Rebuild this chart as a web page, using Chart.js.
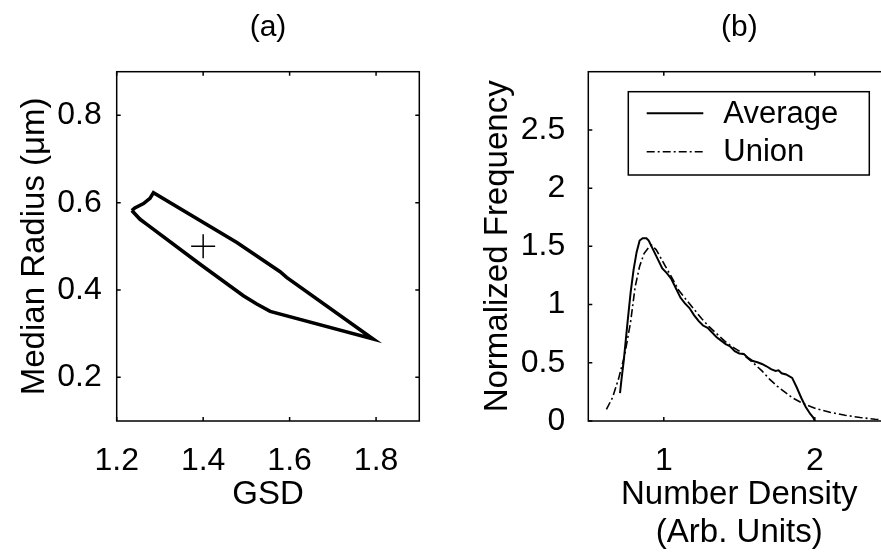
<!DOCTYPE html>
<html>
<head>
<meta charset="utf-8">
<script src="https://cdn.jsdelivr.net/npm/chart.js@4.4.1/dist/chart.umd.min.js"></script>
<style>
  html, body { margin: 0; padding: 0; background: #fff; overflow: hidden; width: 881px; height: 554px; }
  #wrapA { position: absolute; left: 0; top: 0; width: 450px; height: 554px; }
  #wrapB { position: absolute; left: 450px; top: 0; width: 510px; height: 554px; }
</style>
</head>
<body>
<div id="wrapA"><canvas id="chartA" width="450" height="554"></canvas></div>
<div id="wrapB"><canvas id="chartB" width="510" height="554"></canvas></div>
<script>
// ---- (a) acceptance contour in (GSD, median radius) space ----
const contourGSD    = [1.235, 1.242, 1.262, 1.277, 1.285, 1.478, 1.578, 1.593, 1.793, 1.555, 1.524, 1.493, 1.393, 1.269, 1.254, 1.235];
const contourRadius = [0.582, 0.588, 0.598, 0.610, 0.623, 0.509, 0.442, 0.429, 0.288, 0.351, 0.368, 0.387, 0.459, 0.551, 0.562, 0.582];
const bestGSD    = [1.4];
const bestRadius = [0.5];
const gsdTicks    = [1.2, 1.4, 1.6, 1.8];
const radiusTicks = [0.2, 0.4, 0.6, 0.8];

// ---- (b) normalized number-density distributions ----
const avgDensity = [0.71, 0.72, 0.735, 0.76, 0.78, 0.80, 0.82, 0.84, 0.86, 0.885, 0.90, 0.93, 0.96, 0.99, 1.02, 1.05, 1.08, 1.11, 1.14, 1.17, 1.20, 1.23, 1.26, 1.29, 1.32, 1.35, 1.38, 1.41, 1.44, 1.47, 1.50, 1.53, 1.56, 1.59, 1.62, 1.65, 1.68, 1.71, 1.74, 1.76, 1.78, 1.81, 1.85, 1.88, 1.91, 1.94, 1.97, 1.99, 2.0];
const avgFreq    = [0.24, 0.36, 0.52, 0.85, 1.10, 1.30, 1.45, 1.55, 1.57, 1.57, 1.55, 1.47, 1.39, 1.31, 1.27, 1.22, 1.14, 1.06, 1.01, 0.97, 0.91, 0.86, 0.82, 0.80, 0.76, 0.72, 0.69, 0.66, 0.64, 0.60, 0.58, 0.575, 0.54, 0.515, 0.505, 0.49, 0.47, 0.445, 0.43, 0.435, 0.41, 0.40, 0.37, 0.29, 0.20, 0.12, 0.06, 0.03, 0.0];
const unionDensity = [0.62, 0.66, 0.70, 0.74, 0.78, 0.81, 0.84, 0.87, 0.90, 0.92, 0.95, 0.98, 1.01, 1.05, 1.10, 1.15, 1.20, 1.25, 1.30, 1.35, 1.40, 1.45, 1.50, 1.55, 1.60, 1.65, 1.70, 1.75, 1.80, 1.85, 1.90, 1.95, 2.00, 2.10, 2.20, 2.30, 2.40, 2.50];
const unionFreq    = [0.10, 0.20, 0.36, 0.56, 0.85, 1.15, 1.33, 1.44, 1.49, 1.51, 1.47, 1.40, 1.33, 1.24, 1.12, 1.04, 0.96, 0.88, 0.81, 0.75, 0.69, 0.64, 0.60, 0.545, 0.49, 0.43, 0.36, 0.30, 0.25, 0.20, 0.165, 0.135, 0.11, 0.075, 0.05, 0.03, 0.015, 0.005];
const densityTicks = [1, 2];
const freqTicks    = [0, 0.5, 1, 1.5, 2, 2.5];

const FONT = "'Liberation Sans', Arial, sans-serif";

const toPoints = (xs, ys) => xs.map((x, i) => ({ x, y: ys[i] }));
const fixedTicks = list => scale => { scale.ticks = list.map(v => ({ value: v })); };

// Closed axes box with inward tick marks on every side
const framePlugin = {
  id: 'frame',
  afterDatasetsDraw(chart) {
    const { ctx, chartArea: a, scales } = chart;
    const len = 4;
    ctx.save();
    ctx.strokeStyle = '#000';
    ctx.lineWidth = 1.5;
    ctx.strokeRect(a.left, a.top, a.right - a.left, a.bottom - a.top);
    ctx.beginPath();
    scales.x.ticks.forEach(t => {
      const px = scales.x.getPixelForValue(t.value);
      ctx.moveTo(px, a.bottom); ctx.lineTo(px, a.bottom - len);
      ctx.moveTo(px, a.top); ctx.lineTo(px, a.top + len);
    });
    scales.y.ticks.forEach(t => {
      const py = scales.y.getPixelForValue(t.value);
      ctx.moveTo(a.left, py); ctx.lineTo(a.left + len, py);
      ctx.moveTo(a.right, py); ctx.lineTo(a.right - len, py);
    });
    ctx.stroke();
    ctx.restore();
  }
};

// Boxed legend placed inside the upper part of the plot
const boxLegendPlugin = {
  id: 'boxLegend',
  afterDraw(chart, args, o) {
    if (!o || !o.show) return;
    const { ctx, chartArea: a } = chart;
    const x0 = a.left + o.dx, y0 = a.top + o.dy;
    ctx.save();
    ctx.fillStyle = '#fff';
    ctx.fillRect(x0, y0, o.w, o.h);
    ctx.strokeStyle = '#000';
    ctx.lineWidth = 1.5;
    ctx.strokeRect(x0, y0, o.w, o.h);
    ctx.font = o.fontSize + 'px ' + FONT;
    ctx.textBaseline = 'middle';
    ctx.fillStyle = '#000';
    chart.data.datasets.forEach((ds, i) => {
      const cy = y0 + o.rowTop + i * o.rowGap;
      ctx.beginPath();
      ctx.setLineDash(ds.borderDash || []);
      ctx.lineWidth = ds.borderWidth;
      ctx.moveTo(x0 + o.lineX0, cy);
      ctx.lineTo(x0 + o.lineX1, cy);
      ctx.stroke();
      ctx.setLineDash([]);
      ctx.fillText(ds.label, x0 + o.textX, cy + 1);
    });
    ctx.restore();
  }
};

const tickFont = { family: FONT, size: 32, lineHeight: 1.2 };
const axisTitleFont = { family: FONT, size: 33, lineHeight: 1.3 };
const panelTitleFont = { family: FONT, size: 30, weight: 'normal', lineHeight: 1.2 };

new Chart(document.getElementById('chartA'), {
  type: 'scatter',
  data: {
    datasets: [
      { label: 'Contour', data: toPoints(contourGSD, contourRadius), showLine: true,
        borderColor: '#000', borderWidth: 3.6, pointRadius: 0, tension: 0, fill: false },
      { label: 'Best fit', data: toPoints(bestGSD, bestRadius), showLine: false,
        pointStyle: 'cross', pointRadius: 12, borderColor: '#000', borderWidth: 1.5 }
    ]
  },
  options: {
    responsive: false, animation: false, devicePixelRatio: 1,
    layout: { padding: { left: 0, right: 30.7, top: 0, bottom: 0 } },
    plugins: {
      legend: { display: false }, tooltip: { enabled: false },
      title: { display: true, text: '(a)', fullSize: false, color: '#000',
               font: panelTitleFont, padding: { top: 10, bottom: 25.7 } }
    },
    scales: {
      x: { type: 'linear', min: 1.2, max: 1.9,
           afterBuildTicks: fixedTicks(gsdTicks),
           afterFit: s => { s.height = 133; },
           grid: { display: false }, border: { display: false },
           ticks: { color: '#000', font: tickFont, padding: 13, maxRotation: 0,
                    callback: v => v.toFixed(1) },
           title: { display: true, text: 'GSD', color: '#000', font: axisTitleFont,
                    padding: { top: 0, bottom: 38 } } },
      y: { type: 'linear', min: 0.1, max: 0.9,
           afterBuildTicks: fixedTicks(radiusTicks),
           afterFit: s => { s.width = 116.7; },
           grid: { display: false }, border: { display: false },
           ticks: { color: '#000', font: tickFont, padding: 7,
                    callback: v => v.toFixed(1) },
           title: { display: true, text: 'Median Radius (\u03BCm)', color: '#000', font: axisTitleFont,
                    padding: { top: 13, bottom: 0 } } }
    }
  },
  plugins: [framePlugin]
});

new Chart(document.getElementById('chartB'), {
  type: 'scatter',
  data: {
    datasets: [
      { label: 'Average', data: toPoints(avgDensity, avgFreq), showLine: true,
        borderColor: '#000', borderWidth: 2, pointRadius: 0, tension: 0, fill: false },
      { label: 'Union', data: toPoints(unionDensity, unionFreq), showLine: true,
        borderColor: '#000', borderWidth: 1.6, borderDash: [8, 3, 2, 3], pointRadius: 0, tension: 0, fill: false }
    ]
  },
  options: {
    responsive: false, animation: false, devicePixelRatio: 1,
    layout: { padding: { left: 0, right: 69.7, top: 0, bottom: 0 } },
    plugins: {
      legend: { display: false }, tooltip: { enabled: false },
      title: { display: true, text: '(b)', fullSize: false, color: '#000',
               font: panelTitleFont, padding: { top: 10, bottom: 25.7 } },
      boxLegend: { show: true, dx: 40, dy: 20, w: 241, h: 83.3, fontSize: 31,
                   rowTop: 21.6, rowGap: 38.4, lineX0: 18.4, lineX1: 75, textX: 95 }
    },
    scales: {
      x: { type: 'linear', min: 0.5, max: 2.5,
           afterBuildTicks: fixedTicks(densityTicks),
           afterFit: s => { s.height = 133; },
           grid: { display: false }, border: { display: false },
           ticks: { color: '#000', font: tickFont, padding: 13, maxRotation: 0,
                    callback: v => String(v) },
           title: { display: true, text: ['Number Density', '(Arb. Units)'], color: '#000',
                    font: { family: FONT, size: 33, lineHeight: 1.15 },
                    padding: { top: 0, bottom: 2 } } },
      y: { type: 'linear', min: 0, max: 3,
           afterBuildTicks: fixedTicks(freqTicks),
           afterFit: s => { s.width = 138.3; },
           grid: { display: false }, border: { display: false },
           ticks: { color: '#000', font: tickFont, padding: 15,
                    callback: v => String(v) },
           title: { display: true, text: 'Normalized Frequency', color: '#000', font: axisTitleFont,
                    padding: { top: 26, bottom: 0 } } }
    }
  },
  plugins: [framePlugin, boxLegendPlugin]
});
</script>
</body>
</html>
